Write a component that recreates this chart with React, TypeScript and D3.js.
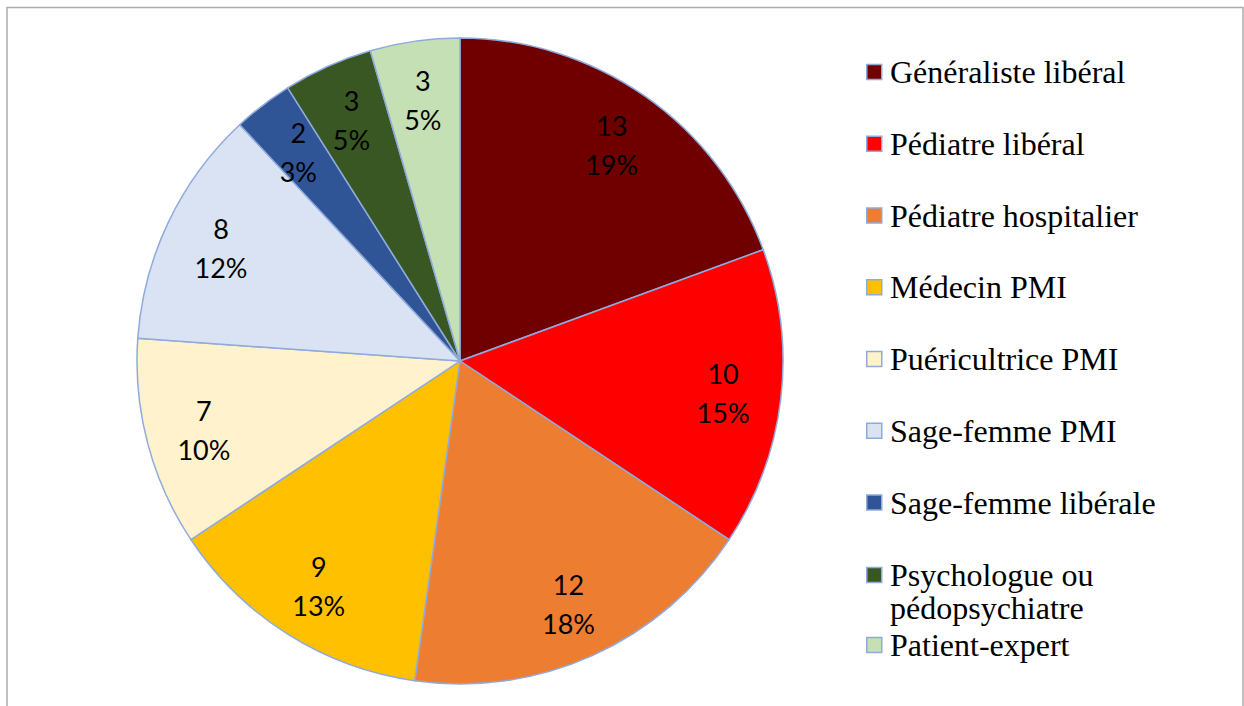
import React, { useRef, useEffect } from 'react';
import * as d3 from 'd3';

const categories = [
  'Généraliste libéral',
  'Pédiatre libéral',
  'Pédiatre hospitalier',
  'Médecin PMI',
  'Puéricultrice PMI',
  'Sage-femme PMI',
  'Sage-femme libérale',
  'Psychologue ou pédopsychiatre',
  'Patient-expert',
];
const counts = [13, 10, 12, 9, 7, 8, 2, 3, 3];
const percentLabels = ['19%', '15%', '18%', '13%', '10%', '12%', '3%', '5%', '5%'];
const colors = ['#700000', '#ff0000', '#ed7d31', '#ffc000', '#fff2cc', '#dae3f3', '#2f5597', '#385723', '#c5e0b4'];
// legend lines (wrapped like the original)
const legendLines = [
  ['Généraliste libéral'],
  ['Pédiatre libéral'],
  ['Pédiatre hospitalier'],
  ['Médecin PMI'],
  ['Puéricultrice PMI'],
  ['Sage-femme PMI'],
  ['Sage-femme libérale'],
  ['Psychologue ou', 'pédopsychiatre'],
  ['Patient-expert'],
];

const App = () => {
  const ref = useRef<HTMLDivElement>(null);

  useEffect(() => {
    d3.select(ref.current).select('svg').remove();

    const width = 1244, height = 706;
    const cx = 460, cy = 361, radius = 323;

    const svg = d3.select(ref.current)
      .append('svg')
      .attr('width', width)
      .attr('height', height)
      .style('position', 'absolute')
      .style('left', 0)
      .style('top', 0);

    svg.append('rect')
      .attr('width', width).attr('height', height).attr('fill', '#fff');

    // chart frame
    svg.append('rect')
      .attr('x', 7).attr('y', 7.5)
      .attr('width', 1236).attr('height', 720)
      .attr('fill', 'none')
      .attr('stroke', '#acacac')
      .attr('stroke-width', 1.5);

    const pie = d3.pie<number>().sort(null).value(d => d);
    const arcs = pie(counts);
    const arc = d3.arc<d3.PieArcDatum<number>>().innerRadius(0).outerRadius(radius);
    const labelArc = d3.arc<d3.PieArcDatum<number>>().innerRadius(radius * 0.82).outerRadius(radius * 0.82);

    const g = svg.append('g').attr('transform', `translate(${cx},${cy})`);

    g.selectAll('path')
      .data(arcs)
      .enter()
      .append('path')
      .attr('d', arc)
      .attr('fill', (d, i) => colors[i])
      .attr('stroke', '#8faadc')
      .attr('stroke-width', 1.5)
      .attr('stroke-linejoin', 'round');

    const labels = g.selectAll('g.lbl')
      .data(arcs)
      .enter()
      .append('g')
      .attr('class', 'lbl')
      .attr('transform', d => `translate(${labelArc.centroid(d)})`);

    labels.append('text')
      .attr('text-anchor', 'middle')
      .attr('y', -8)
      .style('font-family', 'Lato, "Open Sans", sans-serif')
      .style('font-size', '27px')
      .attr('fill', '#000')
      .text((d, i) => counts[i]);

    labels.append('text')
      .attr('text-anchor', 'middle')
      .attr('y', 31)
      .style('font-family', 'Lato, "Open Sans", sans-serif')
      .style('font-size', '27px')
      .attr('fill', '#000')
      .text((d, i) => percentLabels[i]);

    // legend
    const legendY = d3.scalePoint<number>()
      .domain(d3.range(categories.length))
      .range([72, 646]);
    const legendTop = [72, 143.5, 215, 287, 358.5, 431, 503, 575, 645];

    const legend = svg.append('g');
    categories.forEach((c, i) => {
      const y = i === 8 || i === 7 ? legendTop[i] : legendY(i) as number;
      const item = legend.append('g').attr('transform', `translate(866,${y})`);
      item.append('rect')
        .attr('x', 0.75).attr('y', -7.5)
        .attr('width', 15).attr('height', 15)
        .attr('fill', colors[i])
        .attr('stroke', '#8faadc')
        .attr('stroke-width', 1.5);
      legendLines[i].forEach((line, j) => {
        item.append('text')
          .attr('x', 24)
          .attr('y', 11 + j * 33)
          .style('font-family', '"Liberation Serif", "Times New Roman", serif')
          .style('font-size', '32px')
          .attr('fill', '#000')
          .text(line);
      });
    });
  }, []);

  return <div ref={ref} />;
};

export default App;
